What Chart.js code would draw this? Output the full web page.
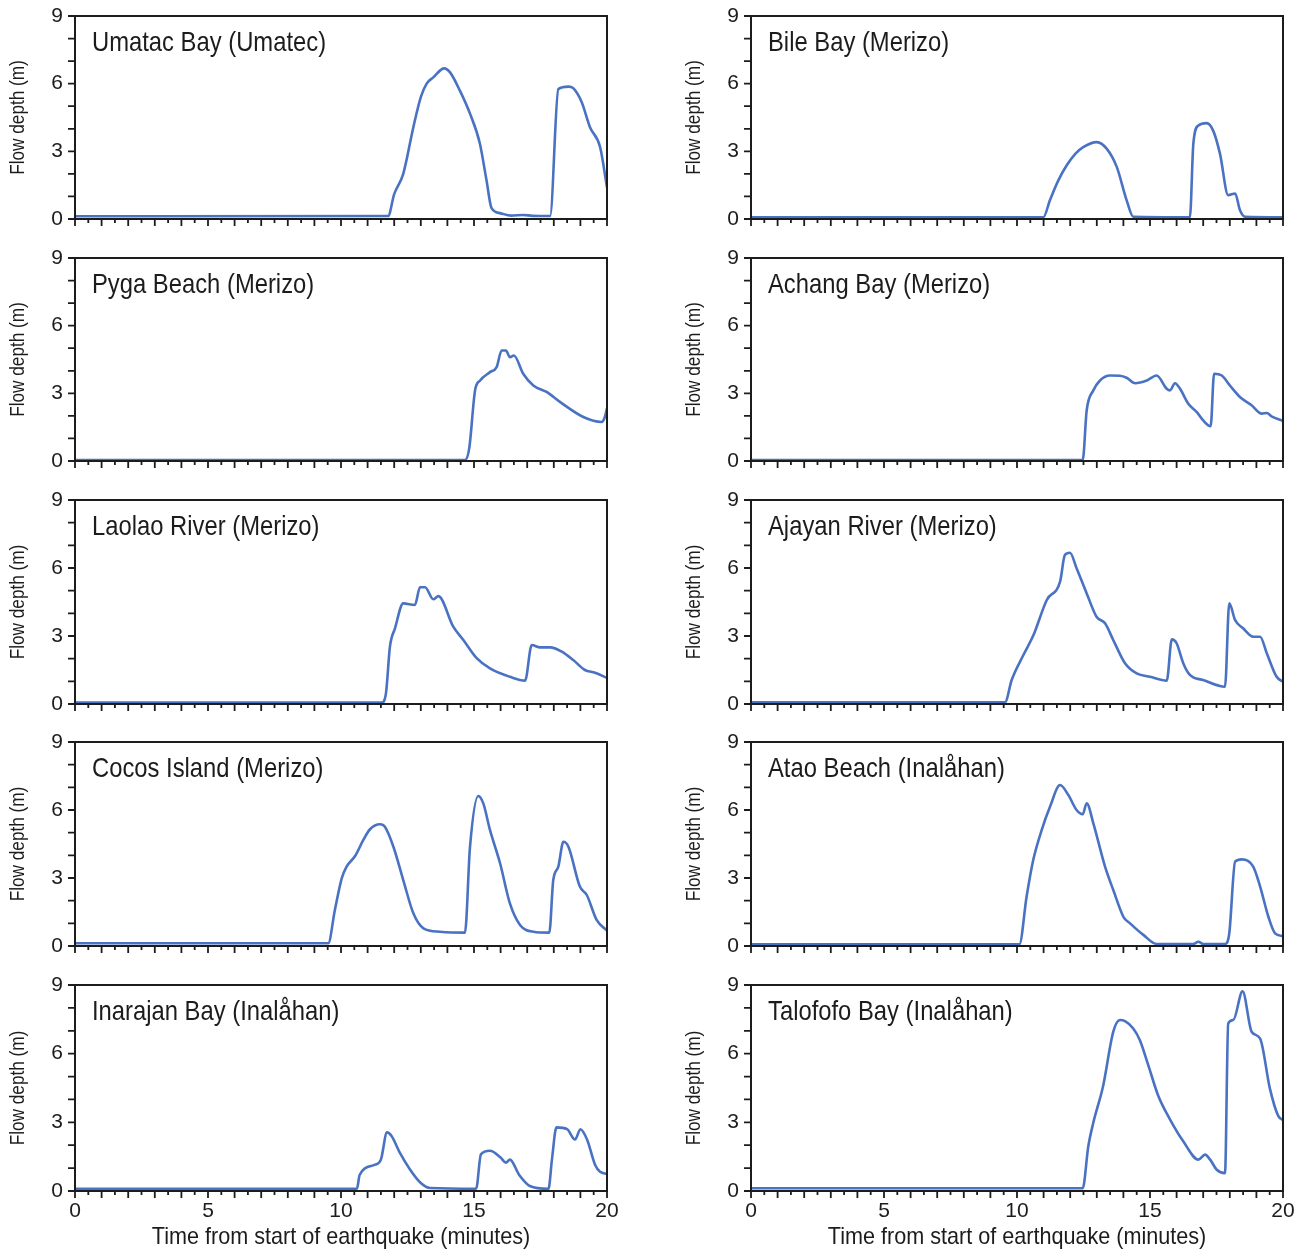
<!DOCTYPE html>
<html>
<head>
<meta charset="utf-8">
<script src="https://cdn.jsdelivr.net/npm/chart.js@4.4.1/dist/chart.umd.min.js"></script>
<style>
  html, body { margin: 0; padding: 0; background: #fff; }
  #wrap { position: relative; width: 1294px; height: 1252px; overflow: hidden; }
  .panel { position: absolute; }
</style>
</head>
<body>
<div id="wrap"></div>
<script>
// minutes since start of earthquake / flow depth in metres
const umatacTime  = [0, 11.77, 12.0, 12.34, 12.72, 13.0, 13.22, 13.47, 13.88, 14.1, 14.47, 14.85, 15.22, 15.47, 15.66, 15.98, 16.4, 16.85, 17.2, 17.86, 18.17, 18.55, 18.73, 19.05, 19.36, 19.74, 20];
const umatacDepth = [0.12, 0.13, 1.1, 2.0, 4.07, 5.4, 6.0, 6.28, 6.68, 6.5, 5.69, 4.67, 3.35, 1.72, 0.48, 0.26, 0.15, 0.18, 0.14, 0.13, 5.76, 5.87, 5.8, 5.18, 4.07, 3.19, 1.4];

const bileTime  = [0, 10.99, 11.24, 11.55, 11.87, 12.2, 12.49, 13.0, 13.37, 13.75, 14.12, 14.37, 16.5, 16.63, 16.82, 17.13, 17.37, 17.63, 17.94, 18.2, 18.38, 18.57, 20];
const bileDepth = [0.08, 0.08, 0.84, 1.7, 2.38, 2.9, 3.19, 3.41, 3.12, 2.31, 0.84, 0.1, 0.08, 3.35, 4.15, 4.25, 3.93, 2.9, 1.06, 1.13, 0.4, 0.1, 0.08];

const pygaTime  = [0, 14.66, 14.82, 15.04, 15.23, 15.6, 15.85, 16.04, 16.2, 16.35, 16.5, 16.85, 17.23, 17.73, 18.23, 19.11, 19.8, 19.92, 20];
const pygaDepth = [0.04, 0.04, 0.56, 3.13, 3.57, 3.94, 4.16, 4.9, 4.9, 4.6, 4.68, 3.87, 3.35, 3.06, 2.62, 1.95, 1.73, 1.95, 2.34];

const achangTime  = [0, 12.47, 12.62, 12.87, 13.12, 13.5, 13.87, 14.12, 14.44, 14.88, 15.25, 15.63, 15.75, 15.94, 16.13, 16.44, 16.76, 17.0, 17.28, 17.41, 17.7, 18.0, 18.38, 18.82, 19.2, 19.39, 19.57, 20];
const achangDepth = [0.04, 0.04, 2.25, 3.13, 3.57, 3.79, 3.78, 3.69, 3.45, 3.57, 3.79, 3.2, 3.13, 3.45, 3.2, 2.54, 2.17, 1.8, 1.54, 3.87, 3.79, 3.35, 2.84, 2.47, 2.1, 2.13, 1.98, 1.78];

const laolaoTime  = [0, 11.53, 11.69, 11.84, 12.03, 12.34, 12.78, 12.97, 13.16, 13.47, 13.66, 14.22, 14.6, 15.1, 15.6, 16.35, 16.92, 17.17, 17.48, 17.86, 18.3, 18.73, 19.17, 19.55, 20];
const laolaoDepth = [0.06, 0.06, 0.47, 2.53, 3.34, 4.44, 4.37, 5.15, 5.15, 4.62, 4.76, 3.41, 2.82, 2.02, 1.57, 1.2, 1.03, 2.6, 2.5, 2.5, 2.31, 1.94, 1.5, 1.38, 1.15];

const ajayanTime  = [0, 9.55, 9.8, 10.24, 10.62, 11.12, 11.62, 11.8, 11.99, 12.24, 12.62, 12.99, 13.31, 13.62, 14.06, 14.5, 15.0, 15.63, 15.82, 16.0, 16.25, 16.5, 17.0, 17.82, 17.98, 18.2, 18.5, 18.88, 19.14, 19.39, 19.76, 20];
const ajayanDepth = [0.08, 0.08, 1.06, 2.16, 3.04, 4.59, 5.4, 6.57, 6.67, 5.99, 4.88, 3.85, 3.56, 2.82, 1.8, 1.35, 1.2, 1.03, 2.85, 2.68, 1.8, 1.28, 1.06, 0.76, 4.44, 3.7, 3.34, 2.97, 2.97, 2.24, 1.2, 0.98];

const cocosTime  = [0, 9.52, 9.77, 10.03, 10.21, 10.53, 10.84, 11.09, 11.47, 11.65, 11.97, 12.34, 12.72, 13.1, 13.72, 14.66, 14.85, 15.16, 15.35, 15.6, 15.98, 16.35, 16.73, 17.23, 17.83, 17.98, 18.17, 18.36, 18.55, 18.98, 19.24, 19.61, 20];
const cocosDepth = [0.12, 0.12, 1.59, 2.99, 3.5, 3.97, 4.68, 5.15, 5.37, 5.26, 4.38, 2.91, 1.44, 0.78, 0.63, 0.59, 4.38, 6.62, 6.29, 5.12, 3.65, 1.88, 0.93, 0.63, 0.59, 2.91, 3.5, 4.6, 4.38, 2.62, 2.25, 1.15, 0.68];

const ataoTime  = [0, 10.09, 10.36, 10.61, 10.93, 11.24, 11.62, 11.93, 12.24, 12.47, 12.62, 12.87, 13.31, 13.62, 14.0, 14.25, 14.75, 15.25, 16.63, 16.82, 17.0, 17.82, 17.98, 18.2, 18.45, 18.88, 19.14, 19.45, 19.7, 20];
const ataoDepth = [0.07, 0.07, 2.17, 3.79, 5.12, 6.14, 7.1, 6.66, 6.0, 5.81, 6.3, 5.41, 3.5, 2.47, 1.29, 1.0, 0.49, 0.09, 0.09, 0.19, 0.09, 0.09, 0.56, 3.72, 3.82, 3.5, 2.62, 1.29, 0.56, 0.44];

const inarajanTime  = [0, 10.6, 10.7, 11.28, 11.5, 11.73, 11.9, 12.2, 12.6, 13.0, 13.35, 15.08, 15.26, 15.6, 16.0, 16.2, 16.35, 16.7, 17.1, 17.8, 17.93, 18.1, 18.5, 18.8, 19.0, 19.25, 19.55, 19.74, 20];
const inarajanDepth = [0.1, 0.1, 0.7, 1.15, 1.37, 2.56, 2.4, 1.7, 0.93, 0.35, 0.13, 0.1, 1.6, 1.76, 1.46, 1.24, 1.37, 0.7, 0.22, 0.1, 1.37, 2.78, 2.7, 2.25, 2.7, 2.25, 1.15, 0.84, 0.75];

const talofofoTime  = [0, 12.47, 12.68, 12.87, 13.24, 13.62, 13.87, 14.06, 14.37, 14.62, 14.94, 15.31, 15.75, 16.25, 16.82, 17.07, 17.26, 17.51, 17.82, 17.94, 18.13, 18.48, 18.82, 19.14, 19.51, 19.82, 20];
const talofofoDepth = [0.12, 0.12, 1.95, 2.99, 4.6, 6.96, 7.47, 7.42, 7.1, 6.59, 5.48, 4.16, 3.13, 2.17, 1.37, 1.59, 1.37, 0.93, 0.78, 7.32, 7.47, 8.72, 6.96, 6.66, 4.46, 3.28, 3.1];

const xTickLabels = [0, 5, 10, 15, 20];
const yTickLabels = [0, 3, 6, 9];

const panels = [
  { name: "Umatac Bay (Umatec)",      t: umatacTime,   d: umatacDepth },
  { name: "Bile Bay (Merizo)",        t: bileTime,     d: bileDepth },
  { name: "Pyga Beach (Merizo)",      t: pygaTime,     d: pygaDepth },
  { name: "Achang Bay (Merizo)",      t: achangTime,   d: achangDepth },
  { name: "Laolao River (Merizo)",    t: laolaoTime,   d: laolaoDepth },
  { name: "Ajayan River (Merizo)",    t: ajayanTime,   d: ajayanDepth },
  { name: "Cocos Island (Merizo)",    t: cocosTime,    d: cocosDepth },
  { name: "Atao Beach (Inalåhan)",    t: ataoTime,     d: ataoDepth },
  { name: "Inarajan Bay (Inalåhan)",  t: inarajanTime, d: inarajanDepth },
  { name: "Talofofo Bay (Inalåhan)",  t: talofofoTime, d: talofofoDepth }
];

// layout (page pixels)
const rowTop = [16, 258, 500, 742, 985];
const rowBottom = [219, 461, 704, 946, 1191];
const colPlotLeft = [75, 751];
const plotWidth = 532;
const yAxisWidth = 75;
const padTop = 12;

const FONT = "'Liberation Sans', Arial, sans-serif";
const INK = "#1c1c1c";
const LINE = "#4a72c2";

// text squeezed horizontally, the original uses a narrow face
function narrowText(ctx, text, x, y, size, squeeze, angle, align) {
  ctx.save();
  ctx.translate(x, y);
  if (angle) ctx.rotate(angle);
  ctx.scale(squeeze, 1);
  ctx.font = size + "px " + FONT;
  ctx.fillStyle = INK;
  ctx.textBaseline = "middle";
  ctx.textAlign = align;
  ctx.fillText(text, 0, 0);
  ctx.restore();
}

// frame, tick marks (long on whole minutes), axis titles and site name
const framePlugin = {
  id: "frame",
  afterDraw(chart, args, opts) {
    const { ctx, chartArea: a, scales } = chart;
    ctx.save();
    ctx.strokeStyle = INK;
    ctx.lineWidth = 2;
    ctx.strokeRect(a.left, a.top, a.right - a.left, a.bottom - a.top);

    ctx.lineWidth = 1.8;
    ctx.beginPath();
    scales.x.ticks.forEach(tk => {
      const px = scales.x.getPixelForValue(tk.value);
      const len = Math.abs(tk.value % 1) < 1e-6 ? 7 : 4;
      ctx.moveTo(px, a.bottom);
      ctx.lineTo(px, a.bottom + len);
    });
    scales.y.ticks.forEach(tk => {
      const py = scales.y.getPixelForValue(tk.value);
      ctx.moveTo(a.left, py);
      ctx.lineTo(a.left - 7, py);
    });
    ctx.stroke();
    ctx.restore();

    narrowText(ctx, opts.name, a.left + 17, a.top + 27, 28, 0.85, 0, "left");
    narrowText(ctx, "Flow depth (m)", 18, (a.top + a.bottom) / 2, 20, 0.86, -Math.PI / 2, "center");
    if (opts.xTitle) {
      narrowText(ctx, "Time from start of earthquake (minutes)", (a.left + a.right) / 2, a.bottom + 46, 24, 0.9, 0, "center");
    }
  }
};

const wrap = document.getElementById("wrap");

panels.forEach((p, i) => {
  const row = Math.floor(i / 2);
  const col = i % 2;
  const bottomRow = row === 4;
  const plotH = rowBottom[row] - rowTop[row];
  const xAxisH = bottomRow ? 61 : 10;
  const left = colPlotLeft[col] - yAxisWidth;
  const width = col === 0 ? 625 : 1294 - left;
  const height = padTop + plotH + xAxisH;

  const div = document.createElement("div");
  div.className = "panel";
  div.style.left = left + "px";
  div.style.top = (rowTop[row] - padTop) + "px";
  const canvas = document.createElement("canvas");
  canvas.width = width;
  canvas.height = height;
  div.appendChild(canvas);
  wrap.appendChild(div);

  new Chart(canvas.getContext("2d"), {
    type: "line",
    data: {
      datasets: [{
        data: p.t.map((x, k) => ({ x: x, y: p.d[k] })),
        borderColor: LINE,
        borderWidth: 2.6,
        pointRadius: 0,
        fill: false,
        cubicInterpolationMode: "monotone"
      }]
    },
    options: {
      responsive: false,
      maintainAspectRatio: false,
      animation: false,
      events: [],
      layout: { padding: { top: padTop, right: width - yAxisWidth - plotWidth, left: 0, bottom: 0 } },
      plugins: {
        legend: { display: false },
        tooltip: { enabled: false },
        frame: { name: p.name, xTitle: bottomRow }
      },
      scales: {
        x: {
          type: "linear",
          min: 0,
          max: 20,
          grid: { display: false, drawTicks: false },
          border: { display: false },
          ticks: {
            display: bottomRow,
            stepSize: 0.5,
            autoSkip: false,
            maxRotation: 0,
            padding: 8,
            color: INK,
            font: { family: FONT, size: 21 },
            callback: v => xTickLabels.includes(v) ? String(v) : ""
          },
          afterFit: s => {
            s.height = xAxisH;
            s.paddingLeft = 0;
            s.paddingRight = 0;
          }
        },
        y: {
          min: 0,
          max: 9,
          grid: { display: false, drawTicks: false },
          border: { display: false },
          ticks: {
            stepSize: 1,
            autoSkip: false,
            padding: 12,
            color: INK,
            font: { family: FONT, size: 21 },
            callback: v => yTickLabels.includes(v) ? String(v) : ""
          },
          afterFit: s => {
            s.width = yAxisWidth;
            s.paddingTop = 0;
            s.paddingBottom = 0;
          }
        }
      }
    },
    plugins: [framePlugin]
  });
});
</script>
</body>
</html>
